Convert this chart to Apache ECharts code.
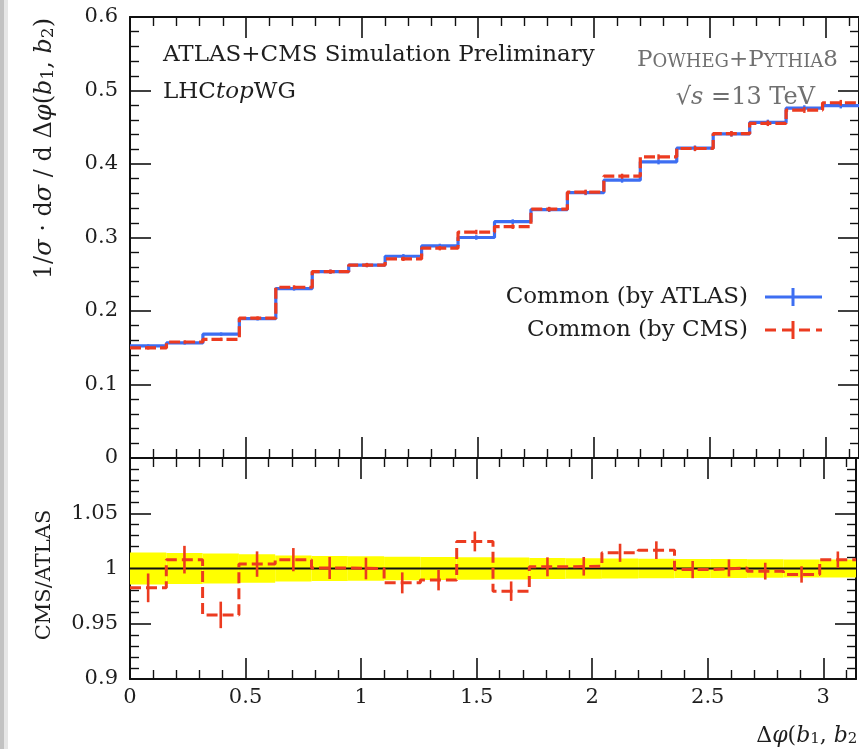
<!DOCTYPE html>
<html>
<head>
<meta charset="utf-8">
<script src="https://cdn.jsdelivr.net/npm/echarts@6/dist/echarts.min.js"></script>
<style>
  html, body { margin: 0; padding: 0; background: #fff; }
  #chart { width: 859px; height: 749px; }
</style>
</head>
<body>
<div id="chart"></div>
<script>
// Δφ(b1,b2) distribution: 20 equal bins on [0, π]
const nBins = 20;
const xMax = Math.PI;
const xTickStep = 0.5;

// normalised cross-section per bin, "Common (by ATLAS)"
const atlas = [0.1525, 0.1565, 0.1685, 0.1895, 0.2305, 0.2535, 0.2625, 0.2745, 0.2885, 0.3000,
               0.3215, 0.3380, 0.3610, 0.3780, 0.4030, 0.4215, 0.4410, 0.4565, 0.4760, 0.4795];
const atlasErr = [0.0022, 0.0022, 0.0023, 0.0024, 0.0027, 0.0028, 0.0029, 0.0029, 0.0030, 0.0031,
                  0.0032, 0.0032, 0.0034, 0.0034, 0.0035, 0.0036, 0.0037, 0.0038, 0.0039, 0.0039];

// normalised cross-section per bin, "Common (by CMS)"
const cms = [0.1498, 0.1578, 0.1614, 0.1903, 0.2323, 0.2536, 0.2625, 0.2709, 0.2855, 0.3074,
             0.3149, 0.3385, 0.3617, 0.3834, 0.4097, 0.4211, 0.4412, 0.4554, 0.4734, 0.4833];
const cmsErr = [0.0022, 0.0022, 0.0023, 0.0024, 0.0027, 0.0028, 0.0029, 0.0029, 0.0030, 0.0031,
                0.0032, 0.0032, 0.0034, 0.0034, 0.0035, 0.0036, 0.0037, 0.0038, 0.0039, 0.0039];

// CMS/ATLAS ratio per bin and its uncertainty
const ratio = [0.9825, 1.0080, 0.9580, 1.0040, 1.0080, 1.0005, 1.0000, 0.9870, 0.9895, 1.0245,
               0.9795, 1.0015, 1.0020, 1.0142, 1.0166, 0.9990, 1.0005, 0.9976, 0.9946, 1.0080];
const ratioErr = [0.0130, 0.0125, 0.0120, 0.0115, 0.0105, 0.0100, 0.0098, 0.0095, 0.0093, 0.0090,
                  0.0088, 0.0086, 0.0084, 0.0082, 0.0080, 0.0078, 0.0077, 0.0076, 0.0074, 0.0074];

// relative uncertainty band of the reference (yellow)
const band = [0.0145, 0.0140, 0.0135, 0.0128, 0.0117, 0.0112, 0.0110, 0.0107, 0.0105, 0.0102,
              0.0099, 0.0096, 0.0093, 0.0091, 0.0088, 0.0086, 0.0085, 0.0083, 0.0081, 0.0081];

const xTickLabels = ['0', '0.5', '1', '1.5', '2', '2.5', '3'];
const yMainLabels = ['0', '0.1', '0.2', '0.3', '0.4', '0.5', '0.6'];
const yRatioLabels = ['0.9', '0.95', '1', '1.05'];

const SERIF = '"DejaVu Serif", "Liberation Serif", serif';
const BLUE = '#3d6ef2';
const RED = '#ec3b20';
const INK = '#111';
const TXT = '#1e1e1e';
const GREY = '#707070';
const FS = 23;

const binW = xMax / nBins;
const edges = Array.from({ length: nBins + 1 }, (_, i) => i * binW);
const centers = edges.slice(0, nBins).map(e => e + binW / 2);
const stepData = vals => edges.map((e, i) => [e, vals[Math.min(i, nBins - 1)]]);
const errData = (vals, errs) => vals.map((v, i) => [centers[i], v, errs[i]]);

function errRender(color, width) {
  return function (params, api) {
    const x = api.value(0), y = api.value(1), e = api.value(2);
    const p1 = api.coord([x, y - e]);
    const p2 = api.coord([x, y + e]);
    return {
      type: 'line',
      shape: { x1: p1[0], y1: p1[1], x2: p2[0], y2: p2[1] },
      style: { stroke: color, lineWidth: width }
    };
  };
}

function nearLabel(list) {
  return v => {
    for (const s of list) if (Math.abs(parseFloat(s) - v) < 1e-6) return s;
    return '';
  };
}

function xAxisDef(grid, pos, withLabels) {
  return {
    type: 'value', gridIndex: grid, position: pos,
    min: 0, max: xMax, interval: xTickStep,
    axisLine: { onZero: false, lineStyle: { color: INK, width: 2 } },
    axisTick: { inside: true, length: 21, lineStyle: { color: INK, width: 1.6 } },
    minorTick: { show: true, splitNumber: 5, length: 9, lineStyle: { color: INK, width: 1.4 } },
    splitLine: { show: false }, minorSplitLine: { show: false },
    axisLabel: withLabels ? {
      show: true, margin: 8, color: TXT, fontFamily: SERIF, fontSize: 21,
      formatter: nearLabel(xTickLabels)
    } : { show: false }
  };
}

function yAxisDef(grid, pos, min, max, interval, labels) {
  return {
    type: 'value', gridIndex: grid, position: pos,
    min: min, max: max, interval: interval,
    axisLine: { onZero: false, lineStyle: { color: INK, width: 2 } },
    axisTick: { inside: true, length: 21, lineStyle: { color: INK, width: 1.6 } },
    minorTick: { show: true, splitNumber: 5, length: 9, lineStyle: { color: INK, width: 1.4 } },
    splitLine: { show: false }, minorSplitLine: { show: false },
    axisLabel: labels ? {
      show: true, margin: 12, color: TXT, fontFamily: SERIF, fontSize: 21,
      formatter: nearLabel(labels)
    } : { show: false }
  };
}

const option = {
  animation: false,
  backgroundColor: '#fff',
  grid: [
    { left: 130, top: 17, width: 735, height: 441 },
    { left: 130, top: 458, width: 735, height: 221 }
  ],
  xAxis: [
    xAxisDef(0, 'bottom', false),
    xAxisDef(0, 'top', false),
    xAxisDef(1, 'bottom', true),
    xAxisDef(1, 'top', false)
  ],
  yAxis: [
    yAxisDef(0, 'left', 0, 0.6, 0.1, yMainLabels),
    yAxisDef(0, 'right', 0, 0.6, 0.1, null),
    yAxisDef(1, 'left', 0.9, 1.1, 0.05, yRatioLabels),
    yAxisDef(1, 'right', 0.9, 1.1, 0.05, null)
  ],
  series: [
    // reference uncertainty band
    {
      type: 'custom', xAxisIndex: 2, yAxisIndex: 2, z: 1,
      data: band.map((b, i) => [edges[i], edges[i + 1], b]),
      renderItem: (params, api) => {
        const b = api.value(2);
        const p1 = api.coord([api.value(0), 1 + b]);
        const p2 = api.coord([api.value(1), 1 - b]);
        return { type: 'rect', shape: { x: p1[0], y: p1[1], width: p2[0] - p1[0], height: p2[1] - p1[1] },
                 style: { fill: '#ffff00' } };
      }
    },
    {
      type: 'line', xAxisIndex: 2, yAxisIndex: 2, z: 2, symbol: 'none',
      data: [[0, 1], [xMax, 1]],
      lineStyle: { color: INK, width: 2 }
    },
    {
      type: 'line', xAxisIndex: 2, yAxisIndex: 2, z: 3, symbol: 'none', step: 'end',
      data: stepData(ratio),
      lineStyle: { color: RED, width: 3, type: [11, 5] }
    },
    {
      type: 'custom', xAxisIndex: 2, yAxisIndex: 2, z: 3,
      data: errData(ratio, ratioErr), renderItem: errRender(RED, 2.6)
    },
    // main panel
    {
      type: 'line', xAxisIndex: 0, yAxisIndex: 0, z: 2, symbol: 'none', step: 'end',
      data: stepData(atlas),
      lineStyle: { color: BLUE, width: 3.2 }
    },
    {
      type: 'custom', xAxisIndex: 0, yAxisIndex: 0, z: 2,
      data: errData(atlas, atlasErr), renderItem: errRender(BLUE, 2.4)
    },
    {
      type: 'line', xAxisIndex: 0, yAxisIndex: 0, z: 3, symbol: 'none', step: 'end',
      data: stepData(cms),
      lineStyle: { color: RED, width: 3.2, type: [11, 4] }
    },
    {
      type: 'custom', xAxisIndex: 0, yAxisIndex: 0, z: 3,
      data: errData(cms, cmsErr), renderItem: errRender(RED, 2.4)
    }
  ],
  graphic: [
    { type: 'rect', left: 0, top: 0, z: 100, shape: { width: 4, height: 749 }, style: { fill: '#c2c2c2' } },
    { type: 'rect', left: 4, top: 0, z: 100, shape: { width: 4, height: 749 }, style: { fill: '#e6e6e6' } },
    // axis titles
    {
      type: 'text', x: 45, y: 18, rotation: Math.PI / 2, z: 100,
      style: {
        text: '{n|1/}{i|σ}{n| · d}{i|σ}{n| / d Δ}{i|φ}{n|(}{i|b}{s|1}{n|, }{i|b}{s|2}{n|)}',
        textAlign: 'right', textVerticalAlign: 'middle',
        rich: {
          n: { fontFamily: SERIF, fontSize: 24, fill: TXT },
          i: { fontFamily: SERIF, fontSize: 24, fontStyle: 'italic', fill: TXT },
          s: { fontFamily: SERIF, fontSize: 17, fill: TXT, verticalAlign: 'bottom' }
        }
      }
    },
    {
      type: 'text', x: 45, y: 575, rotation: Math.PI / 2, z: 100,
      style: { text: 'CMS/ATLAS', fontFamily: SERIF, fontSize: 21, fill: TXT,
               textAlign: 'center', textVerticalAlign: 'middle' }
    },
    {
      type: 'text', x: 866, y: 736, z: 100,
      style: {
        text: '{n|Δ}{i|φ}{n|(}{i|b}{s|1}{n|, }{i|b}{s|2}{n|)}', textAlign: 'right', textVerticalAlign: 'middle',
        rich: {
          n: { fontFamily: SERIF, fontSize: 22, fill: TXT },
          i: { fontFamily: SERIF, fontSize: 22, fontStyle: 'italic', fill: TXT },
          s: { fontFamily: SERIF, fontSize: 15, fill: TXT, verticalAlign: 'bottom' }
        }
      }
    },
    // annotations
    {
      type: 'text', x: 163, y: 55, z: 100,
      style: { text: 'ATLAS+CMS Simulation Preliminary', fontFamily: SERIF, fontSize: FS,
               fill: TXT, textVerticalAlign: 'middle' }
    },
    {
      type: 'text', x: 163, y: 92, z: 100,
      style: {
        text: '{n|LHC}{i|top}{n|WG}', textVerticalAlign: 'middle',
        rich: {
          n: { fontFamily: SERIF, fontSize: FS, fill: TXT },
          i: { fontFamily: SERIF, fontSize: FS, fontStyle: 'italic', fill: TXT }
        }
      }
    },
    {
      type: 'text', x: 838, y: 60, z: 100,
      style: {
        text: '{b|P}{s|OWHEG}{b|+P}{s|YTHIA}{b|8}', textAlign: 'right', textVerticalAlign: 'middle',
        rich: {
          b: { fontFamily: SERIF, fontSize: 23, fill: GREY, verticalAlign: 'bottom' },
          s: { fontFamily: SERIF, fontSize: 18, fill: GREY, verticalAlign: 'bottom' }
        }
      }
    },
    {
      type: 'text', x: 815, y: 98, z: 100,
      style: {
        text: '{n|√}{i|s}{n| =13 TeV}', textAlign: 'right', textVerticalAlign: 'middle',
        rich: {
          n: { fontFamily: SERIF, fontSize: 24, fill: GREY },
          i: { fontFamily: SERIF, fontSize: 24, fontStyle: 'italic', fill: GREY }
        }
      }
    },
    // legend
    {
      type: 'text', x: 748, y: 297, z: 100,
      style: { text: 'Common (by ATLAS)', fontFamily: SERIF, fontSize: FS, fill: TXT,
               textAlign: 'right', textVerticalAlign: 'middle' }
    },
    {
      type: 'text', x: 748, y: 330, z: 100,
      style: { text: 'Common (by CMS)', fontFamily: SERIF, fontSize: FS, fill: TXT,
               textAlign: 'right', textVerticalAlign: 'middle' }
    },
    { type: 'line', z: 100, shape: { x1: 765, y1: 297, x2: 822, y2: 297 }, style: { stroke: BLUE, lineWidth: 3.2 } },
    { type: 'line', z: 100, shape: { x1: 793, y1: 288, x2: 793, y2: 306 }, style: { stroke: BLUE, lineWidth: 3 } },
    { type: 'line', z: 100, shape: { x1: 765, y1: 330, x2: 822, y2: 330 }, style: { stroke: RED, lineWidth: 3.2, lineDash: [11, 6] } },
    { type: 'line', z: 100, shape: { x1: 793, y1: 321, x2: 793, y2: 339 }, style: { stroke: RED, lineWidth: 3 } }
  ]
};

const chart = echarts.init(document.getElementById('chart'));
chart.setOption(option);
</script>
</body>
</html>
